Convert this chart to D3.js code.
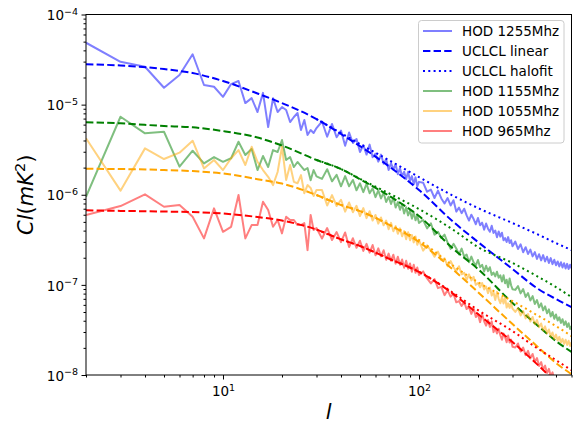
<!DOCTYPE html>
<html><head><meta charset="utf-8">
<script src="https://cdn.jsdelivr.net/npm/d3@7"></script>
<style>body{margin:0;background:#fff} svg{display:block} text{font-family:"DejaVu Sans",sans-serif}</style>
</head><body><svg id="c" width="580" height="423"></svg>
<script>
// multipole grid of the HOD measurements
const ells = [2,3,4,5,6,7,8,9,10,11,12,13,14,15,16,17,18,19,20,21,22,23,24,25,26,27,28,29,30,
 32,34,36,38,40,42,44,46,48,50,52,54,56,58,60,62,64,66,68,70,72,74,76,78,80,82,84,86,88,90,92,94,96,98,100,
 105,110,115,120,125,130,135,140,145,150,155,160,165,170,175,180,185,190,195,200,
 205,210,215,220,225,230,235,240,245,250,255,260,265,270,275,280,285,290,295,300,
 310,320,330,340,350,360,370,380,390,400,410,420,430,440,450,460,470,480,490,500,
 510,520,530,540,550,560,570,580,590,600];

const hod1255 = [4.86e-5,2.99e-5,2.63e-5,1.54e-5,2.13e-5,3.62e-5,1.65e-5,1.58e-5,1.22e-5,1.69e-5,1.83e-5,1.04e-5,1.18e-5,8.28e-6,1.35e-5,5.64e-6,1.18e-5,8.28e-6,9.4e-6,8.71e-6,6.41e-6,7.29e-6,8.07e-6,5.23e-6,6.75e-6,4.6e-6,5.23e-6,4.84e-6,5.5e-6,
 6.5e-6,4.4e-6,6.1e-6,4.35e-6,5.15e-6,3.5e-6,4.9e-6,3.75e-6,4.15e-6,2.98e-6,3.56e-6,2.79e-6,3.6e-6,2.61e-6,2.85e-6,2.33e-6,2.79e-6,2.21e-6,2.48e-6,1.88e-6,2.25e-6,1.9e-6,2.18e-6,1.69e-6,1.97e-6,1.6e-6,1.8e-6,1.49e-6,1.8e-6,1.42e-6,1.61e-6,1.31e-6,1.56e-6,1.24e-6,1.39e-6,
 1.36e-6,1.08e-6,1.14e-6,9.2e-7,1.11e-6,9.1e-7,8.0e-7,9.2e-7,7.6e-7,8.7e-7,6.5e-7,7.2e-7,6.25e-7,7.0e-7,5.9e-7,5.17e-7,6.0e-7,5.37e-7,4.7e-7,5.53e-7,
 4.58e-7,4.9e-7,4.1e-7,4.8e-7,4.2e-7,3.88e-7,4.52e-7,3.77e-7,4.0e-7,3.38e-7,3.92e-7,3.43e-7,3.79e-7,3.12e-7,3.3e-7,2.99e-7,3.39e-7,2.91e-7,3.13e-7,2.68e-7,
 3.02e-7,2.5e-7,2.82e-7,2.3e-7,2.62e-7,2.2e-7,2.46e-7,2.07e-7,2.31e-7,1.94e-7,2.19e-7,1.87e-7,2.14e-7,1.82e-7,2.05e-7,1.75e-7,1.98e-7,1.7e-7,1.9e-7,1.65e-7,
 1.82e-7,1.6e-7,1.78e-7,1.56e-7,1.74e-7,1.52e-7,1.71e-7,1.5e-7,1.67e-7,1.52e-7];

const hod1155 = [9.5e-7,7.34e-6,4.8e-6,5.0e-6,2.05e-6,3.08e-6,2.23e-6,2.62e-6,2.32e-6,2.54e-6,3.87e-6,2.76e-6,3.22e-6,1.88e-6,2.69e-6,2.03e-6,3.13e-6,2.98e-6,4.05e-6,2.43e-6,2.62e-6,2.03e-6,2.31e-6,2.08e-6,1.88e-6,1.98e-6,1.45e-6,1.88e-6,1.6e-6,
 1.5e-6,1.92e-6,1.41e-6,1.66e-6,1.24e-6,1.61e-6,1.24e-6,1.46e-6,1.12e-6,1.34e-6,1.07e-6,1.32e-6,1.04e-6,1.18e-6,9.4e-7,1.12e-6,9.1e-7,1.05e-6,8.3e-7,9.5e-7,7.9e-7,9.3e-7,7.2e-7,8.3e-7,6.8e-7,7.8e-7,6.2e-7,7.26e-7,5.9e-7,6.7e-7,5.43e-7,6.4e-7,5.2e-7,5.9e-7,4.87e-7,
 5.25e-7,4.23e-7,4.83e-7,3.61e-7,3.89e-7,3.32e-7,3.61e-7,2.94e-7,2.51e-7,2.85e-7,2.53e-7,2.18e-7,2.53e-7,2.06e-7,2.17e-7,1.78e-7,2.06e-7,1.78e-7,1.64e-7,1.89e-7,
 1.57e-7,1.67e-7,1.41e-7,1.63e-7,1.42e-7,1.57e-7,1.29e-7,1.37e-7,1.24e-7,1.4e-7,1.2e-7,1.28e-7,1.09e-7,1.28e-7,1.04e-7,1.14e-7,9.4e-8,1.18e-7,9.9e-8,8.96e-8,
 8.8e-8,9.7e-8,8.05e-8,9.0e-8,7.35e-8,8.1e-8,6.72e-8,7.5e-8,6.14e-8,6.78e-8,5.63e-8,6.24e-8,5.21e-8,5.78e-8,4.83e-8,5.35e-8,4.46e-8,5.0e-8,4.2e-8,4.7e-8,
 4.02e-8,4.37e-8,3.78e-8,4.16e-8,3.59e-8,3.94e-8,3.41e-8,3.75e-8,3.24e-8,3.49e-8];

const hod1055 = [4.23e-6,1.11e-6,3.27e-6,2.49e-6,2.93e-6,3.98e-6,1.96e-6,2.43e-6,1.88e-6,2.54e-6,3.13e-6,2.14e-6,3.41e-6,2.32e-6,1.88e-6,1.58e-6,1.28e-6,1.79e-6,3.41e-6,1.46e-6,2.14e-6,1.39e-6,1.34e-6,1.65e-6,1.04e-6,1.28e-6,1.19e-6,9.7e-7,1.13e-6,
 1.13e-6,7.6e-7,9.9e-7,7.5e-7,8.8e-7,6.5e-7,8.2e-7,6.4e-7,7.55e-7,5.8e-7,7.1e-7,5.5e-7,6.57e-7,5.17e-7,5.96e-7,4.78e-7,5.6e-7,4.58e-7,5.17e-7,4.15e-7,4.88e-7,3.93e-7,4.49e-7,3.69e-7,4.24e-7,3.46e-7,3.95e-7,3.21e-7,3.83e-7,3.12e-7,3.57e-7,2.96e-7,3.45e-7,2.78e-7,3.14e-7,
 2.4e-7,2.74e-7,2.4e-7,2.05e-7,2.34e-7,1.88e-7,1.97e-7,1.61e-7,1.84e-7,1.57e-7,1.42e-7,1.61e-7,1.31e-7,1.36e-7,1.14e-7,1.31e-7,1.12e-7,1.23e-7,1.0e-7,1.05e-7,
 9.4e-8,1.05e-7,8.9e-8,9.6e-8,8.1e-8,9.35e-8,7.6e-8,8.3e-8,6.8e-8,8.4e-8,7.0e-8,6.26e-8,7.3e-8,6.2e-8,7.3e-8,5.6e-8,6.24e-8,5.55e-8,6.34e-8,5.44e-8,
 5.01e-8,5.53e-8,4.58e-8,5.12e-8,4.25e-8,4.74e-8,3.93e-8,4.4e-8,3.65e-8,4.07e-8,3.38e-8,3.73e-8,3.12e-8,3.46e-8,2.89e-8,3.2e-8,2.68e-8,2.96e-8,2.51e-8,2.81e-8,
 2.42e-8,2.65e-8,2.29e-8,2.52e-8,2.21e-8,2.46e-8,2.15e-8,2.4e-8,2.1e-8,2.31e-8];

const hod965 = [5.97e-7,7.49e-7,1.01e-6,7.36e-7,7.7e-7,5.7e-7,3.28e-7,7.06e-7,3.88e-7,4.41e-7,9.93e-7,3.28e-7,4.61e-7,4.61e-7,8.36e-7,6.77e-7,4.41e-7,5.24e-7,3.73e-7,5.7e-7,5.24e-7,5.24e-7,4.61e-7,4.61e-7,4.84e-7,2.43e-7,5.97e-7,4.06e-7,4.27e-7,
 3.27e-7,4.27e-7,3.14e-7,3.85e-7,2.98e-7,3.82e-7,2.63e-7,3.29e-7,2.58e-7,3.09e-7,2.38e-7,2.85e-7,2.28e-7,2.77e-7,2.13e-7,2.54e-7,2.07e-7,2.42e-7,1.9e-7,2.22e-7,1.85e-7,2.16e-7,1.72e-7,2.05e-7,1.67e-7,1.91e-7,1.55e-7,1.85e-7,1.51e-7,1.73e-7,1.4e-7,1.67e-7,1.36e-7,1.56e-7,1.29e-7,
 1.41e-7,1.18e-7,1.04e-7,1.16e-7,9.2e-8,9.5e-8,7.7e-8,8.7e-8,7.4e-8,7.98e-8,6.4e-8,6.61e-8,5.84e-8,6.45e-8,5.39e-8,5.66e-8,4.77e-8,5.49e-8,4.39e-8,4.74e-8,
 3.86e-8,4.74e-8,3.95e-8,3.53e-8,4.07e-8,3.41e-8,3.94e-8,2.99e-8,3.29e-8,2.89e-8,3.26e-8,2.76e-8,2.46e-8,2.89e-8,2.62e-8,2.31e-8,2.74e-8,2.29e-8,2.47e-8,2.06e-8,
 2.02e-8,2.24e-8,1.82e-8,2.02e-8,1.66e-8,1.85e-8,1.53e-8,1.71e-8,1.4e-8,1.54e-8,1.26e-8,1.39e-8,1.15e-8,1.27e-8,1.05e-8,1.17e-8,9.8e-9,1.07e-8,8.9e-9,9.8e-9,
 8.4e-9,9.1e-9,7.7e-9,8.4e-9,7.2e-9,7.8e-9,6.8e-9,7.4e-9,6.4e-9,6.9e-9];

// model curves
const lModel = [2,3,5,7,10,15,20,30,40,50,70,100,150,200,300,400,500,600];
const linear1255 = [2.80e-5,2.72e-5,2.48e-5,2.24e-5,1.83e-5,1.33e-5,1.04e-5,6.92e-6,4.72e-6,3.47e-6,2.08e-6,1.13e-6,4.98e-7,2.99e-7,1.50e-7,9.2e-8,6.96e-8,5.67e-8];
const linear1155 = [6.36e-6,6.2e-6,5.79e-6,5.6e-6,5.09e-6,4.31e-6,3.52e-6,2.43e-6,1.93e-6,1.49e-6,9.8e-7,5.8e-7,2.5e-7,1.5e-7,6.28e-8,3.58e-8,2.38e-8,1.8e-8];
const linear1055 = [1.94e-6,1.93e-6,1.88e-6,1.83e-6,1.72e-6,1.49e-6,1.33e-6,9.93e-7,7.69e-7,6.59e-7,4.67e-7,2.99e-7,1.46e-7,8.32e-8,3.67e-8,2.09e-8,1.36e-8,1.02e-8];
const linear965  = [6.71e-7,6.62e-7,6.51e-7,6.43e-7,6.19e-7,5.66e-7,5.17e-7,4.11e-7,3.2e-7,2.7e-7,1.96e-7,1.39e-7,7.9e-8,4.74e-8,2.32e-8,1.32e-8,8.34e-9,5.83e-9];

const lHalo = [30,40,50,70,100,150,200,300,400,500,600];
const halofit1255 = [6.92e-6,4.84e-6,3.65e-6,2.43e-6,1.57e-6,9.7e-7,7.12e-7,4.85e-7,3.66e-7,2.91e-7,2.43e-7];
const halofit1155 = [2.43e-6,1.93e-6,1.5e-6,1.04e-6,6.94e-7,4.06e-7,2.63e-7,1.75e-7,1.25e-7,9.45e-8,7.32e-8];
const halofit1055 = [9.93e-7,7.69e-7,6.59e-7,4.7e-7,3.14e-7,1.62e-7,1.07e-7,6.61e-8,4.62e-8,3.49e-8,2.7e-8];
const halofit965  = [4.11e-7,3.2e-7,2.7e-7,1.96e-7,1.4e-7,8.11e-8,5.25e-8,3.07e-8,1.99e-8,1.46e-8,1.13e-8];

const legendLabels = ["HOD 1255Mhz","UCLCL linear","UCLCL halofit","HOD 1155Mhz","HOD 1055Mhz","HOD 965Mhz"];
const yTickExps = [-8,-7,-6,-5,-4];
const xTickExps = [1,2];

const W=580, H=423, L=86, R=571.5, T=14.5, B=375;
const svg = d3.select("#c");
svg.append("rect").attr("width",W).attr("height",H).attr("fill","#fff");
const x = d3.scaleLog().domain([2,600]).range([L,R]);
const y = d3.scaleLog().domain([1e-8,1e-4]).range([B,T]);

svg.append("defs").append("clipPath").attr("id","clip")
  .append("rect").attr("x",L).attr("y",T).attr("width",R-L).attr("height",B-T);
const plot = svg.append("g").attr("clip-path","url(#clip)");

const groups = [
  {hod:hod1255, lin:linear1255, halo:halofit1255, color:"#0000ff"},
  {hod:hod1155, lin:linear1155, halo:halofit1155, color:"#008000"},
  {hod:hod1055, lin:linear1055, halo:halofit1055, color:"#ffa500"},
  {hod:hod965,  lin:linear965,  halo:halofit965,  color:"#ff0000"}
];
const rawLine = d3.line().x(d=>x(d[0])).y(d=>y(d[1]));
const smoothLine = d3.line().x(d=>x(d[0])).y(d=>y(d[1])).curve(d3.curveMonotoneX);
const DASH = "7.4,3.2", DOT = "2,3.3";

groups.forEach(g=>{
  plot.append("path").attr("d", rawLine(d3.zip(ells, g.hod)))
    .attr("fill","none").attr("stroke",g.color).attr("stroke-opacity",0.5)
    .attr("stroke-width",2).attr("stroke-linejoin","round");
  plot.append("path").attr("d", smoothLine(d3.zip(lModel, g.lin)))
    .attr("fill","none").attr("stroke",g.color).attr("stroke-width",2).attr("stroke-dasharray",DASH);
  plot.append("path").attr("d", smoothLine(d3.zip(lHalo, g.halo)))
    .attr("fill","none").attr("stroke",g.color).attr("stroke-width",2).attr("stroke-dasharray",DOT);
});

// ticks
const yMajor = yTickExps.map(e=>Math.pow(10,e));
const yMinor = [];
for (let e=-8;e<-4;e++) for (let k=2;k<=9;k++) yMinor.push(k*Math.pow(10,e));
const xMajor = xTickExps.map(e=>Math.pow(10,e));
const xMinor = [];
[1,10,100].forEach(b=>{ for (let k=2;k<=9;k++){ const v=k*b; if (v>=2 && v<=600) xMinor.push(v);} });

function styleAxis(g){ g.select(".domain").remove(); g.attr("font-size",13.5).attr("font-family","DejaVu Sans"); g.selectAll("line").attr("stroke-width",1); }
function supLabel(sel){
  sel.selectAll(".tick text").each(function(d){
    const e = Math.round(Math.log10(d));
    const t = d3.select(this).text(null);
    t.append("tspan").text("10");
    t.append("tspan").attr("dy",-5.5).attr("font-size",9.5).text(e<0 ? "\u2212"+(-e) : String(e));
  });
}
const gyMin = svg.append("g").attr("transform",`translate(${L},0)`)
  .call(d3.axisLeft(y).tickValues(yMinor).tickSize(2.5).tickFormat(""));
styleAxis(gyMin);
const gy = svg.append("g").attr("transform",`translate(${L},0)`)
  .call(d3.axisLeft(y).tickValues(yMajor).tickSize(4.5).tickPadding(3.5));
styleAxis(gy);
gy.selectAll(".tick text").attr("dy","0.38em");
supLabel(gy);

const gxMin = svg.append("g").attr("transform",`translate(0,${B})`)
  .call(d3.axisBottom(x).tickValues(xMinor).tickSize(2.5).tickFormat(""));
styleAxis(gxMin);
const gx = svg.append("g").attr("transform",`translate(0,${B})`)
  .call(d3.axisBottom(x).tickValues(xMajor).tickSize(4.5).tickPadding(7));
styleAxis(gx);
supLabel(gx);

// frame
svg.append("rect").attr("x",L).attr("y",T).attr("width",R-L).attr("height",B-T)
  .attr("fill","none").attr("stroke","#000").attr("stroke-width",1);

// axis labels
const yl = svg.append("text").attr("transform",`translate(33,${(T+B)/2}) rotate(-90)`)
  .attr("text-anchor","middle").attr("font-size",21);
yl.append("tspan").attr("font-style","italic").text("Cl");
yl.append("tspan").text("(");
yl.append("tspan").attr("font-style","italic").text("mK");
yl.append("tspan").attr("dy",-8).attr("font-size",14.7).text("2");
yl.append("tspan").attr("dy",8).text(")");
svg.append("text").attr("x",(L+R)/2).attr("y",419).attr("text-anchor","middle")
  .attr("font-size",21).attr("font-style","italic").text("l");

// legend
const items = [
  {color:"#0000ff", op:0.5, dash:null},
  {color:"#0000ff", op:1, dash:DASH},
  {color:"#0000ff", op:1, dash:DOT},
  {color:"#008000", op:0.5, dash:null},
  {color:"#ffa500", op:0.5, dash:null},
  {color:"#ff0000", op:0.5, dash:null}
];
const lg = svg.append("g");
lg.append("rect").attr("x",418.5).attr("y",20.5).attr("width",145.5).attr("height",122.5).attr("rx",3)
  .attr("fill","#fff").attr("fill-opacity",0.8).attr("stroke","#cccccc").attr("stroke-width",1);
items.forEach((it,i)=>{
  const yy = 31 + i*20;
  const ln = lg.append("line").attr("x1",423).attr("x2",452).attr("y1",yy).attr("y2",yy)
    .attr("stroke",it.color).attr("stroke-opacity",it.op).attr("stroke-width",2);
  if (it.dash) ln.attr("stroke-dasharray",it.dash);
  lg.append("text").attr("x",462).attr("y",yy).attr("dy","0.36em").attr("font-size",13.5).text(legendLabels[i]);
});
</script></body></html>
